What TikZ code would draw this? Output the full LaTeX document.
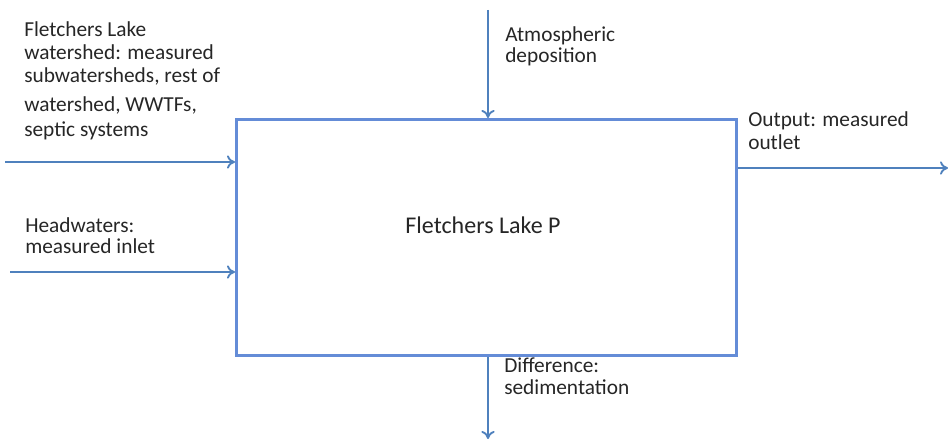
\documentclass[tikz,border=0pt]{standalone}
\usepackage{fontspec}
\setmainfont{Carlito}
\usetikzlibrary{arrows.meta}
\definecolor{arrowblue}{RGB}{79,129,189}
\definecolor{boxblue}{RGB}{100,140,215}
\begin{document}
\begin{tikzpicture}[x=0.75pt,y=-0.75pt,
  flow/.style={draw=arrowblue,line width=1.6pt,-{To[length=6pt,width=10pt,line width=1.4pt]}},
  lbl/.style={align=left,anchor=base west,inner sep=0pt,font=\fontsize{16}{16.5}\selectfont,text=black!85},
  lakebox/.style={draw=boxblue,line width=2.6pt,fill=white}]
\useasboundingbox (0,0) rectangle (948,442);
\node[lakebox,minimum width=375pt,minimum height=177pt,anchor=north west,inner sep=0pt] (lake) at (235,118) {};
\node[font=\fontsize{18}{20}\selectfont,text=black!85,anchor=base,inner sep=0pt] (lakelbl) at (483,233) {Fletchers Lake P};
\coordinate (topS) at (488,10);
\coordinate (botE) at (488,439);
\coordinate (rightE) at (948,168);
\coordinate (l1S) at (5,162);
\coordinate (l2S) at (10,272);
\draw[flow] (topS) -- (topS |- lake.north);
\draw[flow] (botE |- lake.south) -- (botE);
\draw[flow] (lake.east |- rightE) -- (rightE);
\draw[flow] (l1S) -- (l1S -| lake.west);
\draw[flow] (l2S) -- (l2S -| lake.west);
\node[lbl,font=\fontsize{16}{17.25}\selectfont] (wshed) at (24,137) {Fletchers Lake\\watershed: measured\\subwatersheds, rest of\\[4.5pt]watershed, WWTFs,\\[1.5pt]septic systems};
\node[lbl,font=\fontsize{16}{15.75}\selectfont] (head) at (25,253) {Headwaters:\\measured inlet};
\node[lbl,font=\fontsize{16}{15.75}\selectfont] (atm) at (505,63) {Atmospheric\\deposition};
\node[lbl,font=\fontsize{16}{17.25}\selectfont] (out) at (748,150) {Output: measured\\outlet};
\node[lbl] (diff) at (504,394) {Difference:\\sedimentation};
\end{tikzpicture}
\end{document}
